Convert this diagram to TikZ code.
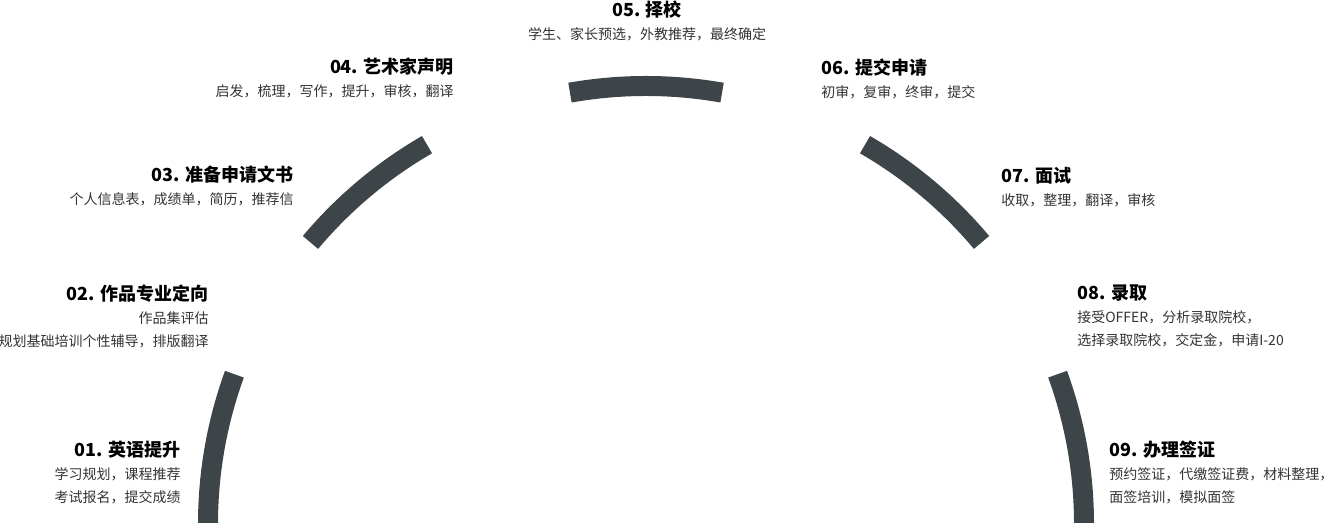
\documentclass[tikz,border=0pt]{standalone}
\usepackage{fontspec}
\setmainfont{Noto Sans CJK SC}[BoldFont={Noto Sans CJK SC Black}]
\definecolor{ringgrey}{RGB}{62,69,73}
\definecolor{descgrey}{RGB}{51,51,51}
\usetikzlibrary{positioning}
\tikzset{
  steptitle/.style={font=\bfseries\fontsize{13.5pt}{16pt}\selectfont, text=black, inner sep=0},
  stepdesc/.style={font=\fontsize{10.5pt}{17.25pt}\selectfont, text=descgrey, inner sep=0},
  ringpart/.style={draw=ringgrey, line width=15pt},
}

\begin{document}
\begin{tikzpicture}[x=0.75pt, y=0.75pt]
  \useasboundingbox (0,0) rectangle (1326,523);
  \coordinate (c) at (646,-1);

  % ring pieces
  \draw [ringpart] ([shift={(0:438)}]c) arc[start angle=0, end angle=20, radius=438];
  \draw [ringpart] ([shift={(40:438)}]c) arc[start angle=40, end angle=60, radius=438];
  \draw [ringpart] ([shift={(80:438)}]c) arc[start angle=80, end angle=100, radius=438];
  \draw [ringpart] ([shift={(120:438)}]c) arc[start angle=120, end angle=140, radius=438];
  \draw [ringpart] ([shift={(160:438)}]c) arc[start angle=160, end angle=180, radius=438];

  % left side
  \node[steptitle, anchor=base east] (title01) at (181,66) {01. 英语提升};
  \node[stepdesc, align=right, below left=6.5pt and 0pt of title01.south east] (desc01) {学习规划，课程推荐\\考试报名，提交成绩};

  \node[steptitle, anchor=base east] (title02) at (209,222) {02. 作品专业定向};
  \node[stepdesc, align=right, below left=6.5pt and 0pt of title02.south east] (desc02) {作品集评估\\规划基础培训个性辅导，排版翻译};

  \node[steptitle, anchor=base east] (title03) at (294,341) {03. 准备申请文书};
  \node[stepdesc, align=right, below left=6.5pt and 0pt of title03.south east] (desc03) {个人信息表，成绩单，简历，推荐信};

  \node[steptitle, anchor=base east] (title04) at (454,449) {04. 艺术家声明};
  \node[stepdesc, align=right, below left=6.5pt and 0pt of title04.south east] (desc04) {启发，梳理，写作，提升，审核，翻译};

  % top
  \node[steptitle, anchor=base] (title05) at (647,506) {05. 择校};
  \node[stepdesc, align=center, below=6.5pt of title05.south] (desc05) {学生、家长预选，外教推荐，最终确定};

  % right side
  \node[steptitle, anchor=base west] (title06) at (821,448) {06. 提交申请};
  \node[stepdesc, align=left, below right=6.5pt and 0pt of title06.south west] (desc06) {初审，复审，终审，提交};

  \node[steptitle, anchor=base west] (title07) at (1001,340) {07. 面试};
  \node[stepdesc, align=left, below right=6.5pt and 0pt of title07.south west] (desc07) {收取，整理，翻译，审核};

  \node[steptitle, anchor=base west] (title08) at (1077,223) {08. 录取};
  \node[stepdesc, align=left, below right=6.5pt and 0pt of title08.south west] (desc08) {接受OFFER，分析录取院校，\\选择录取院校，交定金，申请I-20};

  \node[steptitle, anchor=base west] (title09) at (1109,66) {09. 办理签证};
  \node[stepdesc, align=left, below right=6.5pt and 0pt of title09.south west] (desc09) {预约签证，代缴签证费，材料整理，\\面签培训，模拟面签};

\end{tikzpicture}
\end{document}
